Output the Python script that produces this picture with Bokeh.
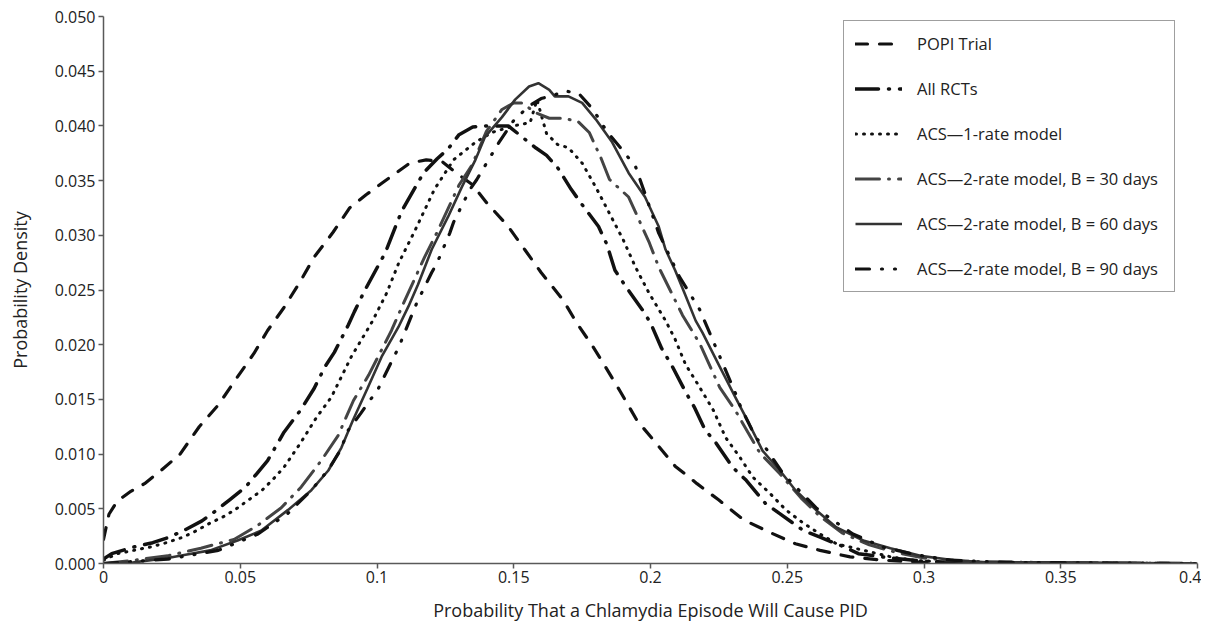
from bokeh.plotting import figure
from bokeh.models import Legend, LegendItem, FixedTicker, Range1d
from bokeh.embed import file_html
from bokeh.resources import INLINE

# ---------------- data ----------------
x_ticks = [0, 0.05, 0.1, 0.15, 0.2, 0.25, 0.3, 0.35, 0.4]
x_tick_labels = ["0", "0.05", "0.1", "0.15", "0.2", "0.25", "0.3", "0.35", "0.4"]
y_ticks = [0, 0.005, 0.01, 0.015, 0.02, 0.025, 0.03, 0.035, 0.04, 0.045, 0.05]
y_tick_labels = ["0.000", "0.005", "0.010", "0.015", "0.020", "0.025",
                 "0.030", "0.035", "0.040", "0.045", "0.050"]

series_names = ["POPI Trial", "All RCTs", "ACS\u20141-rate model",
                "ACS\u20142-rate model, B = 30 days",
                "ACS\u20142-rate model, B = 60 days",
                "ACS\u20142-rate model, B = 90 days"]

popi_x = [0.000, 0.002, 0.005, 0.010, 0.015, 0.021, 0.028, 0.035, 0.042, 0.048,
          0.055, 0.060, 0.066, 0.072, 0.077, 0.084, 0.090, 0.096, 0.102, 0.107,
          0.112, 0.118, 0.124, 0.129, 0.135, 0.140, 0.148, 0.154, 0.160, 0.168,
          0.173, 0.179, 0.183, 0.189, 0.195, 0.202, 0.209, 0.217, 0.225, 0.234,
          0.244, 0.253, 0.262, 0.273, 0.285, 0.300, 0.320, 0.400]
popi_y = [0.0022, 0.0045, 0.0057, 0.0066, 0.0073, 0.0085, 0.0100, 0.0125, 0.0145, 0.0167,
          0.0192, 0.0213, 0.0234, 0.0258, 0.0280, 0.0303, 0.0325, 0.0337, 0.0348, 0.0357,
          0.0366, 0.0369, 0.0367, 0.0357, 0.0346, 0.0330, 0.0308, 0.0287, 0.0266, 0.0241,
          0.0220, 0.0198, 0.0182, 0.0157, 0.0131, 0.0110, 0.0089, 0.0073, 0.0058, 0.0040,
          0.0028, 0.0018, 0.0012, 0.0006, 0.0003, 0.0001, 0.0000, 0.0000]

rct_x = [0.000, 0.003, 0.011, 0.018, 0.024, 0.030, 0.036, 0.041, 0.046, 0.052,
         0.056, 0.060, 0.066, 0.072, 0.077, 0.081, 0.0844, 0.0895, 0.0917, 0.0954,
         0.103, 0.109, 0.117, 0.122, 0.126, 0.130, 0.135, 0.140, 0.148, 0.153,
         0.158, 0.162, 0.166, 0.171, 0.175, 0.181, 0.184, 0.187, 0.191, 0.197,
         0.200, 0.204, 0.208, 0.213, 0.216, 0.220, 0.224, 0.230, 0.235, 0.242,
         0.247, 0.256, 0.262, 0.271, 0.276, 0.288, 0.300, 0.320, 0.400]
rct_y = [0.0004, 0.0009, 0.0015, 0.0019, 0.0024, 0.0031, 0.0039, 0.0048, 0.0058, 0.0070,
         0.0082, 0.0094, 0.0120, 0.0140, 0.0160, 0.0180, 0.0193, 0.0218, 0.0230, 0.0249,
         0.0284, 0.0322, 0.0357, 0.0370, 0.0379, 0.0392, 0.0399, 0.0400, 0.0400, 0.0390,
         0.0380, 0.0373, 0.0362, 0.0342, 0.0328, 0.0308, 0.0292, 0.0268, 0.0253, 0.0232,
         0.0220, 0.0197, 0.0180, 0.0156, 0.0143, 0.0122, 0.0110, 0.0088, 0.0076, 0.0055,
         0.0046, 0.0030, 0.0024, 0.0015, 0.0009, 0.0005, 0.0002, 0.0000, 0.0000]

acs1_x = [0.000, 0.005, 0.011, 0.017, 0.023, 0.029, 0.034, 0.039, 0.044, 0.048,
          0.053, 0.058, 0.062, 0.066, 0.072, 0.078, 0.0833, 0.0906, 0.098, 0.1035,
          0.108, 0.114, 0.121, 0.128, 0.136, 0.142, 0.150, 0.156, 0.1585, 0.1605,
          0.162, 0.166, 0.170, 0.175, 0.180, 0.185, 0.190, 0.1945, 0.1995, 0.2055,
          0.209, 0.2128, 0.218, 0.223, 0.2275, 0.2327, 0.2374, 0.2437, 0.2495, 0.2558,
          0.262, 0.268, 0.278, 0.288, 0.296, 0.310, 0.330, 0.400]
acs1_y = [0.0003, 0.0009, 0.0012, 0.0015, 0.0019, 0.0024, 0.0030, 0.0037, 0.0043, 0.0049,
          0.0058, 0.0067, 0.0077, 0.0088, 0.0110, 0.0134, 0.0152, 0.0189, 0.0220, 0.0247,
          0.0275, 0.0305, 0.0342, 0.0369, 0.0385, 0.0394, 0.0400, 0.0403, 0.0424, 0.0406,
          0.0393, 0.0383, 0.0380, 0.0366, 0.0344, 0.0320, 0.0296, 0.0271, 0.0247, 0.0222,
          0.0205, 0.0182, 0.0161, 0.0140, 0.0115, 0.0097, 0.0079, 0.0064, 0.0049, 0.0037,
          0.0027, 0.0018, 0.0012, 0.0006, 0.0003, 0.0001, 0.0000, 0.0000]

b30_x = [0.000, 0.011, 0.0235, 0.0356, 0.0477, 0.0565, 0.065, 0.0723, 0.0796, 0.0858,
         0.0914, 0.0969, 0.1053, 0.1097, 0.1174, 0.122, 0.130, 0.1347, 0.140, 0.1457,
         0.150, 0.153, 0.158, 0.163, 0.168, 0.1735, 0.1776, 0.182, 0.185, 0.192,
         0.1996, 0.203, 0.2117, 0.218, 0.2253, 0.231, 0.240, 0.2473, 0.255, 0.262,
         0.270, 0.280, 0.290, 0.300, 0.315, 0.340, 0.400]
b30_y = [0.0000, 0.0003, 0.0007, 0.0014, 0.0022, 0.0035, 0.0051, 0.0070, 0.0094, 0.0117,
         0.0149, 0.0172, 0.0213, 0.0238, 0.0280, 0.0303, 0.0346, 0.0364, 0.0395, 0.0415,
         0.0421, 0.0421, 0.0412, 0.0407, 0.0407, 0.0404, 0.0394, 0.0370, 0.0351, 0.0335,
         0.0293, 0.0271, 0.0227, 0.0201, 0.0161, 0.0140, 0.0101, 0.0082, 0.0060, 0.0043,
         0.0028, 0.0017, 0.0010, 0.0005, 0.0002, 0.0001, 0.0000]

b60_x = [0.000, 0.011, 0.0235, 0.030, 0.039, 0.049, 0.0576, 0.0675, 0.076, 0.0822,
         0.087, 0.0912, 0.0965, 0.1017, 0.1078, 0.1115, 0.115, 0.120, 0.126, 0.131,
         0.1358, 0.1395, 0.1457, 0.1505, 0.1556, 0.159, 0.163, 0.165, 0.170, 0.175,
         0.180, 0.186, 0.192, 0.198, 0.203, 0.2055, 0.209, 0.2128, 0.2165, 0.219,
         0.2253, 0.231, 0.236, 0.241, 0.2473, 0.253, 0.2605, 0.268, 0.2778, 0.2877,
         0.2987, 0.311, 0.323, 0.350, 0.400]
b60_y = [0.0000, 0.0001, 0.0005, 0.0008, 0.0012, 0.0021, 0.0030, 0.0049, 0.0067, 0.0085,
         0.0106, 0.0131, 0.0160, 0.0189, 0.0216, 0.0235, 0.0255, 0.0287, 0.0317, 0.0344,
         0.0368, 0.0390, 0.0408, 0.0424, 0.0436, 0.0439, 0.0433, 0.0427, 0.0427, 0.0421,
         0.0406, 0.0385, 0.0357, 0.0335, 0.0308, 0.0287, 0.0268, 0.0245, 0.0222, 0.0211,
         0.0180, 0.0152, 0.0128, 0.0103, 0.0085, 0.0067, 0.0049, 0.0033, 0.0021, 0.0014,
         0.0007, 0.0003, 0.0001, 0.0001, 0.0000]

b90_x = [0.000, 0.0235, 0.042, 0.0565, 0.0675, 0.076, 0.082, 0.0865, 0.0895, 0.094,
         0.1005, 0.106, 0.108, 0.1127, 0.1145, 0.120, 0.122, 0.1266, 0.128, 0.134,
         0.1365, 0.1446, 0.150, 0.1555, 0.160, 0.1645, 0.169, 0.174, 0.179, 0.184,
         0.189, 0.1945, 0.203, 0.2106, 0.218, 0.231, 0.233, 0.2385, 0.242, 0.2485,
         0.252, 0.2605, 0.263, 0.274, 0.285, 0.297, 0.310, 0.330, 0.400]
b90_y = [0.0000, 0.0004, 0.0012, 0.0027, 0.0046, 0.0067, 0.0085, 0.0103, 0.0122, 0.0137,
         0.0160, 0.0188, 0.0198, 0.0227, 0.0238, 0.0266, 0.0275, 0.0302, 0.0312, 0.0342,
         0.0351, 0.0385, 0.0405, 0.0418, 0.0425, 0.0428, 0.0432, 0.0429, 0.0415, 0.0395,
         0.0380, 0.0363, 0.0302, 0.0262, 0.0232, 0.0156, 0.0143, 0.0115, 0.0106, 0.0082,
         0.0073, 0.0051, 0.0046, 0.0027, 0.0015, 0.0008, 0.0003, 0.0001, 0.0000]

# ---------------- figure ----------------
FONT = "Open Sans"
TXT = "#222222"
AX = "#595959"

p = figure(frame_width=1094, frame_height=547, output_backend="svg",
           toolbar_location=None, x_range=Range1d(0, 0.4), y_range=Range1d(0, 0.05),
           min_border_left=103, min_border_top=16, min_border_right=4, min_border_bottom=0)
p.outline_line_color = None
p.grid.grid_line_color = None
p.background_fill_color = "white"

p.xaxis.ticker = FixedTicker(ticks=x_ticks)
p.xaxis.major_label_overrides = dict(zip(x_ticks, x_tick_labels))
p.yaxis.ticker = FixedTicker(ticks=y_ticks)
p.yaxis.major_label_overrides = dict(zip(y_ticks, y_tick_labels))

p.xaxis.axis_label = "Probability That a Chlamydia Episode Will Cause PID"
p.yaxis.axis_label = "Probability Density"

for ax in (p.xaxis, p.yaxis):
    ax.axis_line_color = AX
    ax.axis_line_width = 1.5
    ax.major_tick_line_color = AX
    ax.major_tick_line_width = 1.5
    ax.major_tick_out = 5
    ax.major_tick_in = 0
    ax.minor_tick_line_color = None
    ax.major_label_text_font = FONT
    ax.major_label_text_font_size = "16px"
    ax.major_label_text_color = TXT
    ax.major_label_standoff = 3
    ax.axis_label_text_font = FONT
    ax.axis_label_text_font_size = "18px"
    ax.axis_label_text_font_style = "normal"
    ax.axis_label_text_color = TXT
p.xaxis.major_label_standoff = 2
p.xaxis.axis_label_standoff = 12
p.yaxis.axis_label_standoff = 20

r_popi = p.line(popi_x, popi_y, line_color="#111111", line_width=3.2,
                line_dash="12 12", line_cap="round")
r_rct = p.line(rct_x, rct_y, line_color="#111111", line_width=3.5,
               line_dash="23 10 1 10", line_cap="round")
r_acs1 = p.line(acs1_x, acs1_y, line_color="#111111", line_width=3,
                line_dash="1 7", line_cap="round")
r_b30 = p.line(b30_x, b30_y, line_color="#444444", line_width=3,
               line_dash="24 9 1 9", line_cap="round")
r_b60 = p.line(b60_x, b60_y, line_color="#333333", line_width=2.6)
r_b90 = p.line(b90_x, b90_y, line_color="#111111", line_width=3.2,
               line_dash="14 12 1 12 1 12", line_cap="round")

renderers = [r_popi, r_rct, r_acs1, r_b30, r_b60, r_b90]
items = [LegendItem(label=n, renderers=[r]) for n, r in zip(series_names, renderers)]
legend = Legend(items=items, location=(740, 271), orientation="vertical",
                border_line_color="#404040", border_line_width=1.5,
                background_fill_color="white", background_fill_alpha=1.0,
                label_text_font=FONT, label_text_font_size="16.5px", label_text_color=TXT,
                glyph_width=47, glyph_height=23, label_height=23, label_width=246,
                spacing=22, padding=11, label_standoff=15, margin=0)
p.add_layout(legend, "center")

open("out.html", "w").write(file_html(p, INLINE))
